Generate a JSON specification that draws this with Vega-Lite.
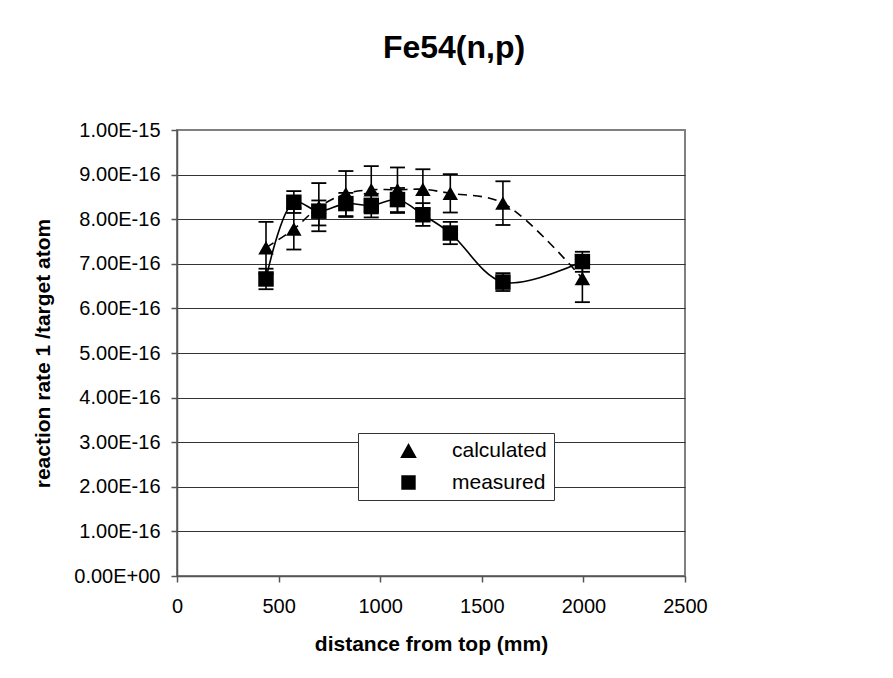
{
  "$schema": "https://vega.github.io/schema/vega-lite/v6.json",
  "width": 508,
  "height": 446,
  "autosize": {"type": "none"},
  "padding": {"left": 177, "top": 130, "right": 208, "bottom": 102},
  "background": "white",
  "config": {
    "font": "Liberation Sans",
    "view": {"stroke": "#808080", "strokeWidth": 2}
  },
  "title": {
    "text": "Fe54(n,p)",
    "fontSize": 32,
    "fontWeight": "bold",
    "font": "Liberation Sans",
    "color": "black",
    "anchor": "middle",
    "dx": 23,
    "offset": 30,
    "baseline": "alphabetic"
  },
  "data": {
    "values": [
      {"series": "calculated", "distance": 438, "rate": 7.36e-16, "lo": 6.78e-16, "hi": 7.94e-16},
      {"series": "calculated", "distance": 575, "rate": 7.78e-16, "lo": 7.32e-16, "hi": 8.25e-16},
      {"series": "calculated", "distance": 698, "rate": 8.27e-16, "lo": 7.73e-16, "hi": 8.81e-16},
      {"series": "calculated", "distance": 831, "rate": 8.57e-16, "lo": 8.05e-16, "hi": 9.08e-16},
      {"series": "calculated", "distance": 956, "rate": 8.66e-16, "lo": 8.13e-16, "hi": 9.19e-16},
      {"series": "calculated", "distance": 1085, "rate": 8.66e-16, "lo": 8.16e-16, "hi": 9.16e-16},
      {"series": "calculated", "distance": 1210, "rate": 8.67e-16, "lo": 8.24e-16, "hi": 9.12e-16},
      {"series": "calculated", "distance": 1345, "rate": 8.58e-16, "lo": 8.15e-16, "hi": 9.01e-16},
      {"series": "calculated", "distance": 1604, "rate": 8.36e-16, "lo": 7.87e-16, "hi": 8.85e-16},
      {"series": "calculated", "distance": 1995, "rate": 6.67e-16, "lo": 6.14e-16, "hi": 7.20e-16},
      {"series": "measured", "distance": 438, "rate": 6.66e-16, "lo": 6.43e-16, "hi": 6.89e-16},
      {"series": "measured", "distance": 575, "rate": 8.38e-16, "lo": 8.14e-16, "hi": 8.63e-16},
      {"series": "measured", "distance": 698, "rate": 8.18e-16, "lo": 7.86e-16, "hi": 8.42e-16},
      {"series": "measured", "distance": 831, "rate": 8.35e-16, "lo": 8.07e-16, "hi": 8.59e-16},
      {"series": "measured", "distance": 956, "rate": 8.31e-16, "lo": 8.04e-16, "hi": 8.57e-16},
      {"series": "measured", "distance": 1085, "rate": 8.44e-16, "lo": 8.14e-16, "hi": 8.70e-16},
      {"series": "measured", "distance": 1210, "rate": 8.10e-16, "lo": 7.85e-16, "hi": 8.36e-16},
      {"series": "measured", "distance": 1345, "rate": 7.69e-16, "lo": 7.44e-16, "hi": 7.94e-16},
      {"series": "measured", "distance": 1604, "rate": 6.59e-16, "lo": 6.39e-16, "hi": 6.79e-16},
      {"series": "measured", "distance": 1995, "rate": 7.05e-16, "lo": 6.82e-16, "hi": 7.27e-16}
    ]
  },
  "encoding": {
    "x": {
      "field": "distance",
      "type": "quantitative",
      "scale": {"domain": [0, 2500], "nice": false},
      "axis": {
        "title": "distance from top (mm)",
        "values": [0, 500, 1000, 1500, 2000, 2500],
        "format": "d",
        "grid": false,
        "tickSize": 6,
        "labelPadding": 14,
        "labelFontSize": 20,
        "labelFont": "Liberation Sans",
        "labelColor": "black",
        "labelFlush": false,
        "titleFontSize": 21,
        "titleFont": "Liberation Sans",
        "titleFontWeight": "bold",
        "titleColor": "black",
        "titlePadding": 17,
        "domainColor": "#555555",
        "domainWidth": 1.5,
        "tickColor": "#555555",
        "tickWidth": 1.5
      }
    },
    "y": {
      "field": "rate",
      "type": "quantitative",
      "title": "reaction rate 1 /target atom",
      "scale": {"domain": [0, 1e-15], "nice": false},
      "axis": {
        "values": [0, 1e-16, 2e-16, 3e-16, 4e-16, 5e-16, 6e-16, 7e-16, 8e-16, 9e-16, 1e-15],
        "labelExpr": "datum.value == 0 ? '0.00E+00' : upper(format(datum.value, '.2e'))",
        "grid": true,
        "gridColor": {"condition": {"test": "datum.value > 9.99e-16", "value": "#808080"}, "value": "#333333"},
        "gridWidth": 1,
        "tickSize": 6,
        "labelPadding": 11,
        "labelFontSize": 20,
        "labelFont": "Liberation Sans",
        "labelColor": "black",
        "titleFontSize": 21,
        "titleFont": "Liberation Sans",
        "titleFontWeight": "bold",
        "titleColor": "black",
        "titlePadding": 20,
        "domainColor": "#555555",
        "domainWidth": 1.5,
        "tickColor": "#555555",
        "tickWidth": 1.5
      }
    }
  },
  "resolve": {"scale": {"shape": "independent"}, "legend": {"shape": "independent"}},
  "layer": [
    {
      "transform": [{"filter": "datum.series === 'calculated'"}],
      "mark": {"type": "line", "interpolate": "catmull-rom", "strokeWidth": 1.6, "color": "black", "strokeDash": [9, 6]}
    },
    {
      "transform": [{"filter": "datum.series === 'measured'"}],
      "mark": {"type": "line", "interpolate": "catmull-rom", "strokeWidth": 1.6, "color": "black"}
    },
    {
      "mark": {"type": "rule", "strokeWidth": 1.6, "color": "black"},
      "encoding": {
        "y": {"field": "lo", "type": "quantitative"},
        "y2": {"field": "hi"}
      }
    },
    {
      "mark": {"type": "tick", "orient": "horizontal", "size": 15, "thickness": 1.8, "color": "black", "opacity": 1},
      "encoding": {
        "y": {"field": "lo", "type": "quantitative"}
      }
    },
    {
      "mark": {"type": "tick", "orient": "horizontal", "size": 15, "thickness": 1.8, "color": "black", "opacity": 1},
      "encoding": {
        "y": {"field": "hi", "type": "quantitative"}
      }
    },
    {
      "mark": {"type": "point", "filled": true, "opacity": 1, "color": "black", "size": 240},
      "encoding": {
        "shape": {
          "field": "series",
          "type": "nominal",
          "scale": {"domain": ["calculated", "measured"], "range": ["triangle-up", "square"]},
          "legend": null
        }
      }
    },
    {
      "transform": [{"filter": "datum.series === 'legend only'"}],
      "mark": {"type": "point", "filled": false, "opacity": 1, "fill": "black", "fillOpacity": 1, "stroke": "black", "strokeOpacity": 1, "strokeWidth": 1.5, "size": 225},
      "encoding": {
        "shape": {
          "field": "series",
          "type": "nominal",
          "scale": {
            "domain": ["calculated", "measured"],
            "range": ["M-1,0H1.31M3.29,1L4.4,-1L5.51,1ZM6.56,0H8.91", "M-1,0H9.93M3.44,-0.96H5.36V0.96H3.44Z"]
          },
          "legend": {
            "title": null,
            "orient": "none",
            "legendX": 181,
            "legendY": 303,
            "direction": "vertical",
            "strokeColor": "#333333",
            "fillColor": "white",
            "padding": 7,
            "labelFontSize": 21,
            "labelFont": "Liberation Sans",
            "labelColor": "black",
            "symbolSize": 225,
            "symbolStrokeWidth": 1.5,
            "symbolFillColor": "black",
            "symbolStrokeColor": "black",
            "symbolOpacity": 1,
            "labelOffset": 66,
            "rowPadding": 10
          }
        }
      }
    }
  ]
}
